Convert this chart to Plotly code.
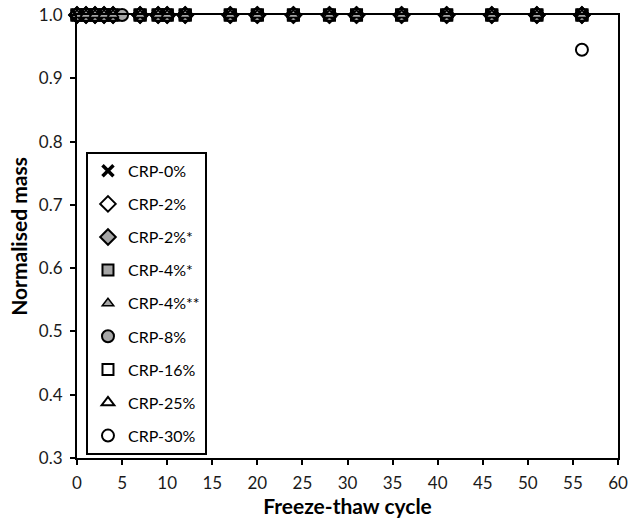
import plotly.graph_objects as go

# Freeze-thaw cycles at which each mix was weighed, and normalised mass
cycles_all = [0, 1, 2, 3, 4, 7, 9, 10, 12, 17, 20, 24, 28, 31, 36, 41, 46, 51, 56]
cycles_8 = [0, 1, 2, 3, 4, 5, 7, 9, 10, 12, 17, 20, 24, 28, 31, 36, 41, 46, 51, 56]

mass_crp0 = [1.0] * len(cycles_all)
mass_crp2 = [1.0] * len(cycles_all)
mass_crp2s = [1.0] * len(cycles_all)
mass_crp4s = [1.0] * len(cycles_all)
mass_crp4ss = [1.0] * len(cycles_all)
mass_crp8 = [1.0] * len(cycles_8)
mass_crp16 = [1.0] * len(cycles_all)
mass_crp25 = [1.0] * len(cycles_all)
mass_crp30 = [1.0] * (len(cycles_all) - 1) + [0.945]

series_names = ["CRP-0%", "CRP-2%", "CRP-2%*", "CRP-4%*", "CRP-4%**",
                "CRP-8%", "CRP-16%", "CRP-25%", "CRP-30%"]
series_x = [cycles_all, cycles_all, cycles_all, cycles_all, cycles_all,
            cycles_8, cycles_all, cycles_all, cycles_all]
series_y = [mass_crp0, mass_crp2, mass_crp2s, mass_crp4s, mass_crp4ss,
            mass_crp8, mass_crp16, mass_crp25, mass_crp30]

GREY = "#a6a6a6"
styles = [
    dict(symbol="x-thin-open", color="black", line=dict(color="black", width=3.5), size=11),
    dict(symbol="diamond", color="white", line=dict(color="black", width=2), size=12),
    dict(symbol="diamond", color=GREY, line=dict(color="black", width=2), size=12),
    dict(symbol="square", color=GREY, line=dict(color="black", width=2), size=11),
    dict(symbol="triangle-up", color=GREY, line=dict(color="black", width=1.5), size=10),
    dict(symbol="circle", color=GREY, line=dict(color="black", width=2), size=12),
    dict(symbol="square", color="white", line=dict(color="black", width=2), size=11),
    dict(symbol="triangle-up", color="white", line=dict(color="black", width=2), size=11),
    dict(symbol="circle", color="white", line=dict(color="black", width=2), size=12),
]

# stacking order of the overlapping markers (bottom first); legend keeps list order
draw_order = [8, 7, 6, 1, 3, 2, 5, 0, 4]

fig = go.Figure()
for i in draw_order:
    fig.add_trace(go.Scatter(
        x=series_x[i], y=series_y[i], name=series_names[i], mode="markers",
        marker=styles[i], cliponaxis=False, legendgroup=f"g{i}",
        legendrank=i + 1,
    ))

font_family = "Lato, 'Open Sans', sans-serif"
axis_common = dict(
    showline=True, linecolor="black", linewidth=2, mirror=True,
    ticks="outside", ticklen=5, tickwidth=2, tickcolor="black",
    showgrid=False, zeroline=False, automargin=False,
    tickfont=dict(family=font_family, size=17, color="#1a1a1a"),
)

fig.update_layout(
    width=640, height=526,
    margin=dict(l=77, r=22, t=15, b=68),
    paper_bgcolor="white", plot_bgcolor="white",
    font=dict(family=font_family, color="black"),
    xaxis=dict(range=[0, 60], dtick=5, tick0=0, ticklabelstandoff=4,
               title=dict(text="<b>Freeze-thaw cycle</b>", font=dict(size=21), standoff=6),
               **axis_common),
    yaxis=dict(range=[0.3, 1.0], dtick=0.1, tick0=0.3, tickformat=".1f", ticklabelstandoff=4,
               title=dict(text="<b>Normalised mass</b>", font=dict(size=21), standoff=6),
               **axis_common),
    legend=dict(
        x=0.0166, y=0.691, xanchor="left", yanchor="top",
        bgcolor="white", bordercolor="black", borderwidth=2,
        font=dict(family=font_family, size=16, color="black"),
        tracegroupgap=9.3, itemwidth=30,
    ),
    showlegend=True,
)

fig.write_html("out.html")
